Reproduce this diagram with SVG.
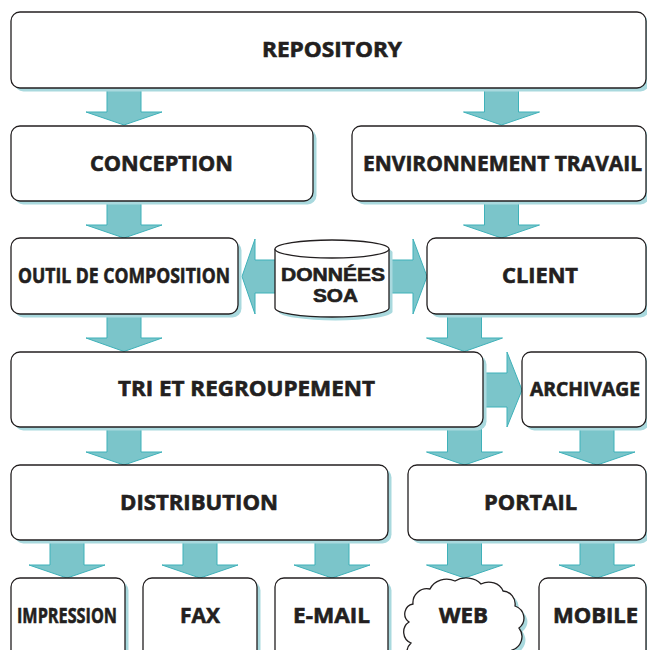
<svg xmlns="http://www.w3.org/2000/svg" width="647" height="650" viewBox="0 0 647 650">
<style>
.bg{fill:#ffffff}
.sh{fill:#a9d9de;stroke:none}
.box{fill:#ffffff;stroke:#231f20;stroke-width:1.3}
.arr{fill:#7bc5ca;stroke:#3fb1b9;stroke-width:1}
.t{font-family:"Open Sans","Liberation Sans",Arial,sans-serif;font-weight:700;font-size:21px;fill:#231f20;stroke:#231f20;stroke-width:0.6;text-anchor:middle}
.s{font-family:"Liberation Sans",Arial,sans-serif;font-size:18px}
.a{font-size:19px}
</style>
<rect class="bg" x="0" y="0" width="647" height="650"/>
<g id="connectors">
<path class="arr" d="M107,86 H141 V112 H162 L124,125 L86,112 H107 Z"/>
<path class="arr" d="M484.5,86 H518.5 V112 H539.5 L501.5,125 L463.5,112 H484.5 Z"/>
<path class="arr" d="M107,199 H141 V225 H162 L124,238 L86,225 H107 Z"/>
<path class="arr" d="M484.5,199 H518.5 V225 H539.5 L501.5,238 L463.5,225 H484.5 Z"/>
<path class="arr" d="M107,312 H141 V338 H162 L124,351.5 L86,338 H107 Z"/>
<path class="arr" d="M447.5,312 H481.5 V338 H502.5 L464.5,351.5 L426.5,338 H447.5 Z"/>
<path class="arr" d="M107,425 H141 V452 H162 L124,465 L86,452 H107 Z"/>
<path class="arr" d="M447.5,425 H481.5 V452 H502.5 L464.5,465 L426.5,452 H447.5 Z"/>
<path class="arr" d="M580,425 H614 V452 H635 L597,465 L559,452 H580 Z"/>
<path class="arr" d="M50,538 H84 V565 H105 L67,578 L29,565 H50 Z"/>
<path class="arr" d="M183,538 H217 V565 H238 L200,578 L162,565 H183 Z"/>
<path class="arr" d="M315,538 H349 V565 H370 L332,578 L294,565 H315 Z"/>
<path class="arr" d="M447.5,538 H481.5 V565 H502.5 L464.5,578 L426.5,565 H447.5 Z"/>
<path class="arr" d="M580,538 H614 V565 H635 L597,578 L559,565 H580 Z"/>
<path class="arr" d="M290,260 V293 H255 V314 L242,276.5 L255,239 V260 Z"/>
<path class="arr" d="M375,260 V293 H413 V314 L427,276.5 L413,239 V260 Z"/>
<path class="arr" d="M481,373 V407 H507 V427 L522,390 L507,352 V373 Z"/>
</g>
<g id="repository">
<rect class="sh" x="14.5" y="15.5" width="635" height="76" rx="9"/>
<rect class="box" x="11" y="12" width="635" height="76" rx="9"/>
<text class="t" x="332" y="57" textLength="140" lengthAdjust="spacingAndGlyphs">REPOSITORY</text>
</g>
<g id="conception">
<rect class="sh" x="14.5" y="129.5" width="302" height="75" rx="9"/>
<rect class="box" x="11" y="126" width="302" height="75" rx="9"/>
<text class="t" x="161.5" y="171" textLength="143" lengthAdjust="spacingAndGlyphs">CONCEPTION</text>
</g>
<g id="environnement">
<rect class="sh" x="355.5" y="129.5" width="294" height="75" rx="9"/>
<rect class="box" x="352" y="126" width="294" height="75" rx="9"/>
<text class="t" x="502.5" y="171" textLength="279" lengthAdjust="spacingAndGlyphs">ENVIRONNEMENT TRAVAIL</text>
</g>
<g id="outil">
<rect class="sh" x="14.5" y="241.5" width="227" height="76" rx="9"/>
<rect class="box" x="11" y="238" width="227" height="76" rx="9"/>
<text class="t" x="124" y="283" textLength="212" lengthAdjust="spacingAndGlyphs">OUTIL DE COMPOSITION</text>
</g>
<g id="donnees">
<path class="sh" d="M278.5,252.5 V311.5 A57,9 0 0 0 392.5,311.5 V252.5 A57,9 0 0 0 278.5,252.5 Z"/>
<path class="box" d="M275,249 V308 A57,9 0 0 0 389,308 V249 A57,9 0 0 0 275,249 Z"/>
<path class="box" d="M275,249 A57,9 0 0 0 389,249" fill="none"/>
<text class="t s" x="333" y="281" textLength="104" lengthAdjust="spacingAndGlyphs">DONNÉES</text>
<text class="t s" x="335.5" y="301.5" textLength="45" lengthAdjust="spacingAndGlyphs">SOA</text>
</g>
<g id="client">
<rect class="sh" x="430.5" y="241.5" width="219" height="76" rx="9"/>
<rect class="box" x="427" y="238" width="219" height="76" rx="9"/>
<text class="t" x="540" y="283" textLength="76" lengthAdjust="spacingAndGlyphs">CLIENT</text>
</g>
<g id="tri">
<rect class="sh" x="14.5" y="355.5" width="472" height="75" rx="9"/>
<rect class="box" x="11" y="352" width="472" height="75" rx="9"/>
<text class="t" x="246.5" y="396" textLength="257" lengthAdjust="spacingAndGlyphs">TRI ET REGROUPEMENT</text>
</g>
<g id="archivage">
<rect class="sh" x="525.5" y="355.5" width="124" height="75" rx="9"/>
<rect class="box" x="522" y="352" width="124" height="75" rx="9"/>
<text class="t a" x="585" y="396" textLength="110" lengthAdjust="spacingAndGlyphs">ARCHIVAGE</text>
</g>
<g id="distribution">
<rect class="sh" x="14.5" y="468.5" width="377" height="75" rx="9"/>
<rect class="box" x="11" y="465" width="377" height="75" rx="9"/>
<text class="t" x="199" y="510" textLength="158" lengthAdjust="spacingAndGlyphs">DISTRIBUTION</text>
</g>
<g id="portail">
<rect class="sh" x="411.5" y="468.5" width="238" height="75" rx="9"/>
<rect class="box" x="408" y="465" width="238" height="75" rx="9"/>
<text class="t" x="530.5" y="510" textLength="93" lengthAdjust="spacingAndGlyphs">PORTAIL</text>
</g>
<g id="impression">
<rect class="sh" x="14.5" y="581.5" width="114" height="85" rx="9"/>
<rect class="box" x="11" y="578" width="114" height="85" rx="9"/>
<text class="t" x="67" y="623" textLength="100" lengthAdjust="spacingAndGlyphs">IMPRESSION</text>
</g>
<g id="fax">
<rect class="sh" x="146.5" y="581.5" width="114" height="85" rx="9"/>
<rect class="box" x="143" y="578" width="114" height="85" rx="9"/>
<text class="t" x="200" y="623" textLength="40" lengthAdjust="spacingAndGlyphs">FAX</text>
</g>
<g id="email">
<rect class="sh" x="278.5" y="581.5" width="113" height="85" rx="9"/>
<rect class="box" x="275" y="578" width="113" height="85" rx="9"/>
<text class="t" x="331.5" y="623" textLength="77" lengthAdjust="spacingAndGlyphs">E-MAIL</text>
</g>
<g id="web">
<path class="sh" transform="translate(3.5,3.5)" d="M413,604 A14,14 0 0 1 430,589 A18,16 0 0 1 455,581 A18,14 0 0 1 481,584 A15,13 0 0 1 503,591 A13,13 0 0 1 515,606 A14,13 0 0 1 519,628 A14,14 0 0 1 512,650 A22,18 0 0 1 470,668 A20,16 0 0 1 432,662 A14,13 0 0 1 411,643 A12,12 0 0 1 409,622 A10,10 0 0 1 413,604 Z"/>
<path class="box" d="M413,604 A14,14 0 0 1 430,589 A18,16 0 0 1 455,581 A18,14 0 0 1 481,584 A15,13 0 0 1 503,591 A13,13 0 0 1 515,606 A14,13 0 0 1 519,628 A14,14 0 0 1 512,650 A22,18 0 0 1 470,668 A20,16 0 0 1 432,662 A14,13 0 0 1 411,643 A12,12 0 0 1 409,622 A10,10 0 0 1 413,604 Z"/>
<text class="t" x="463.5" y="623" textLength="49" lengthAdjust="spacingAndGlyphs">WEB</text>
</g>
<g id="mobile">
<rect class="sh" x="542.5" y="581.5" width="107" height="85" rx="9"/>
<rect class="box" x="539" y="578" width="107" height="85" rx="9"/>
<text class="t" x="595.5" y="623" textLength="85" lengthAdjust="spacingAndGlyphs">MOBILE</text>
</g>
</svg>
